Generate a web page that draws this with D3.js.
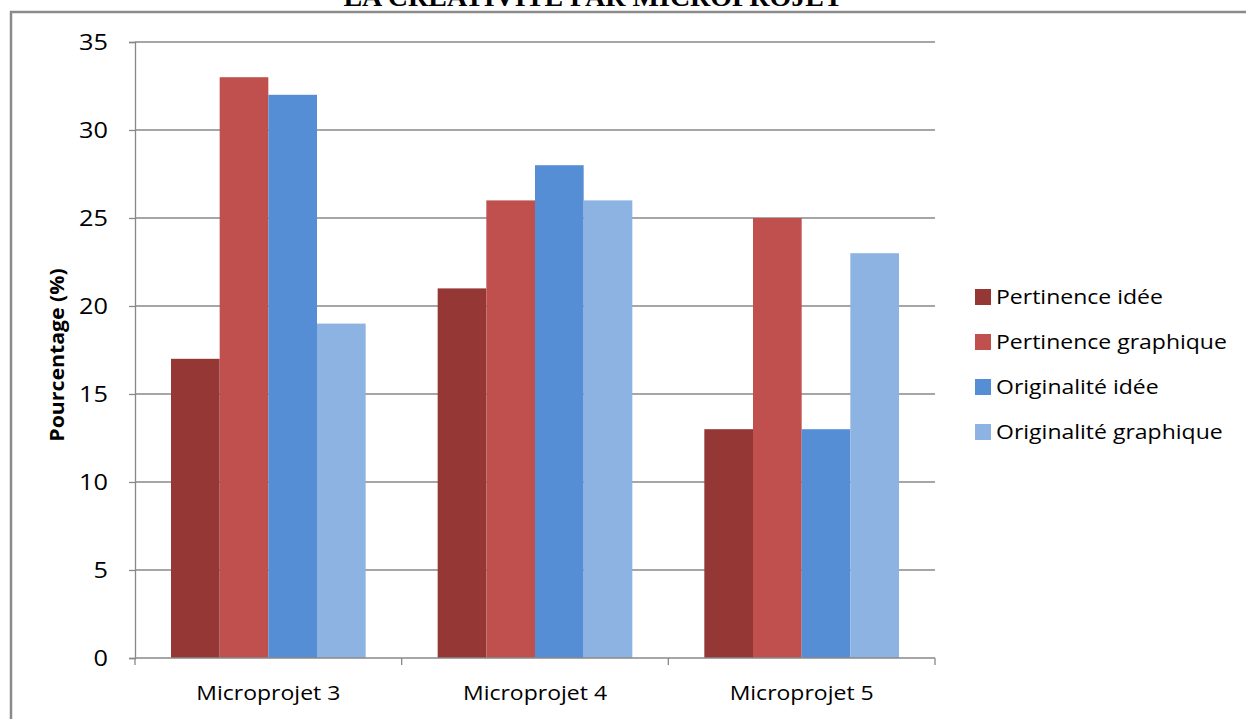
<!DOCTYPE html>
<html>
<head>
<meta charset="utf-8">
<script src="https://d3js.org/d3.v7.min.js"></script>
<style>
  html, body { margin: 0; padding: 0; background: #fff; }
  svg { display: block; }
</style>
</head>
<body>
<svg id="chart" width="1246" height="719"></svg>
<script>
const categories = ["Microprojet 3", "Microprojet 4", "Microprojet 5"];
const seriesNames = ["Pertinence idée", "Pertinence graphique", "Originalité idée", "Originalité graphique"];
const seriesColors = ["#953735", "#C0504D", "#558ED5", "#8DB3E2"];
const pertinenceIdee = [17, 21, 13];
const pertinenceGraphique = [33, 26, 25];
const originaliteIdee = [32, 28, 13];
const originaliteGraphique = [19, 26, 23];
const yTicks = [0, 5, 10, 15, 20, 25, 30, 35];

const seriesValues = [pertinenceIdee, pertinenceGraphique, originaliteIdee, originaliteGraphique];

const svg = d3.select("#chart");
const plot = { left: 135, right: 935, top: 42, bottom: 658 };
const font = "'Open Sans', sans-serif";
const stretch = 1.15; // labels are set slightly wide

// Outer frame (top and left edges visible)
svg.append("line").attr("x1", 10).attr("x2", 1246).attr("y1", 12).attr("y2", 12)
  .attr("stroke", "#8a8a8a").attr("stroke-width", 2.5);
svg.append("line").attr("x1", 11).attr("x2", 11).attr("y1", 11).attr("y2", 719)
  .attr("stroke", "#8a8a8a").attr("stroke-width", 2.5);

// Title, partly above the page edge
svg.append("text")
  .attr("x", 593).attr("y", 6)
  .attr("text-anchor", "middle")
  .attr("font-family", "'Liberation Serif', 'Times New Roman', serif")
  .attr("font-weight", "bold")
  .attr("font-size", 28)
  .attr("fill", "#000")
  .text("LA CRÉATIVITÉ PAR MICROPROJET");

const x0 = d3.scaleBand().domain(categories).range([plot.left, plot.right]).paddingInner(0).paddingOuter(0);
const x1 = d3.scaleBand().domain(d3.range(seriesNames.length))
  .range([36, x0.bandwidth() - 36]).padding(0);
const y = d3.scaleLinear().domain([0, 35]).range([plot.bottom, plot.top]);

// Horizontal gridlines
svg.append("g").selectAll("line").data(yTicks.filter(d => d > 0)).join("line")
  .attr("x1", plot.left).attr("x2", plot.right)
  .attr("y1", d => y(d)).attr("y2", d => y(d))
  .attr("stroke", "#888").attr("stroke-width", 1.3);

// Bars
const groups = svg.append("g").selectAll("g").data(categories).join("g")
  .attr("transform", d => `translate(${x0(d)},0)`);
groups.selectAll("rect")
  .data((c, ci) => seriesValues.map((vals, si) => ({ si, v: vals[ci] })))
  .join("rect")
  .attr("x", d => x1(d.si))
  .attr("width", x1.bandwidth())
  .attr("y", d => y(d.v))
  .attr("height", d => y(0) - y(d.v))
  .attr("fill", d => seriesColors[d.si]);

// Y axis
const yAxis = svg.append("g").attr("transform", `translate(${plot.left},0)`)
  .call(d3.axisLeft(y).tickValues(yTicks).tickSize(6));
yAxis.select(".domain").attr("stroke", "#888").attr("stroke-width", 1.3);
yAxis.selectAll(".tick line").attr("stroke", "#888").attr("stroke-width", 1.3);
yAxis.selectAll(".tick text")
  .attr("x", 0)
  .attr("transform", `translate(-27,0) scale(${stretch},1)`)
  .attr("font-family", font).attr("font-size", 22).attr("fill", "#000");

// X axis with ticks at category boundaries
const xAxisG = svg.append("g").attr("transform", `translate(0,${plot.bottom})`);
xAxisG.append("line").attr("x1", plot.left).attr("x2", plot.right)
  .attr("stroke", "#888").attr("stroke-width", 1.3);
const boundaries = categories.map(c => x0(c)).concat([plot.right]);
xAxisG.selectAll("line.tk").data(boundaries).join("line").attr("class", "tk")
  .attr("x1", d => d).attr("x2", d => d).attr("y1", 0).attr("y2", 7)
  .attr("stroke", "#888").attr("stroke-width", 1.3);
xAxisG.selectAll("text").data(categories).join("text")
  .attr("transform", d => `translate(${x0(d) + x0.bandwidth() / 2},42) scale(${stretch},1)`)
  .attr("text-anchor", "middle")
  .attr("font-family", font).attr("font-size", 20).attr("fill", "#000")
  .text(d => d);

// Y axis title
svg.append("text")
  .attr("transform", "translate(64,355) rotate(-90) scale(1.12,1)")
  .attr("text-anchor", "middle")
  .attr("font-family", font).attr("font-weight", "bold")
  .attr("font-size", 19).attr("fill", "#000")
  .text("Pourcentage (%)");

// Legend
const legend = svg.append("g").attr("transform", "translate(975,297)");
const items = legend.selectAll("g").data(seriesNames).join("g")
  .attr("transform", (d, i) => `translate(0,${i * 45})`);
items.append("rect").attr("x", 0).attr("y", -8).attr("width", 16).attr("height", 16)
  .attr("fill", (d, i) => seriesColors[i]);
items.append("text")
  .attr("transform", `translate(21,0) scale(${stretch},1)`)
  .attr("dy", "0.35em")
  .attr("font-family", font).attr("font-size", 20).attr("fill", "#000")
  .text(d => d);
</script>
</body>
</html>
